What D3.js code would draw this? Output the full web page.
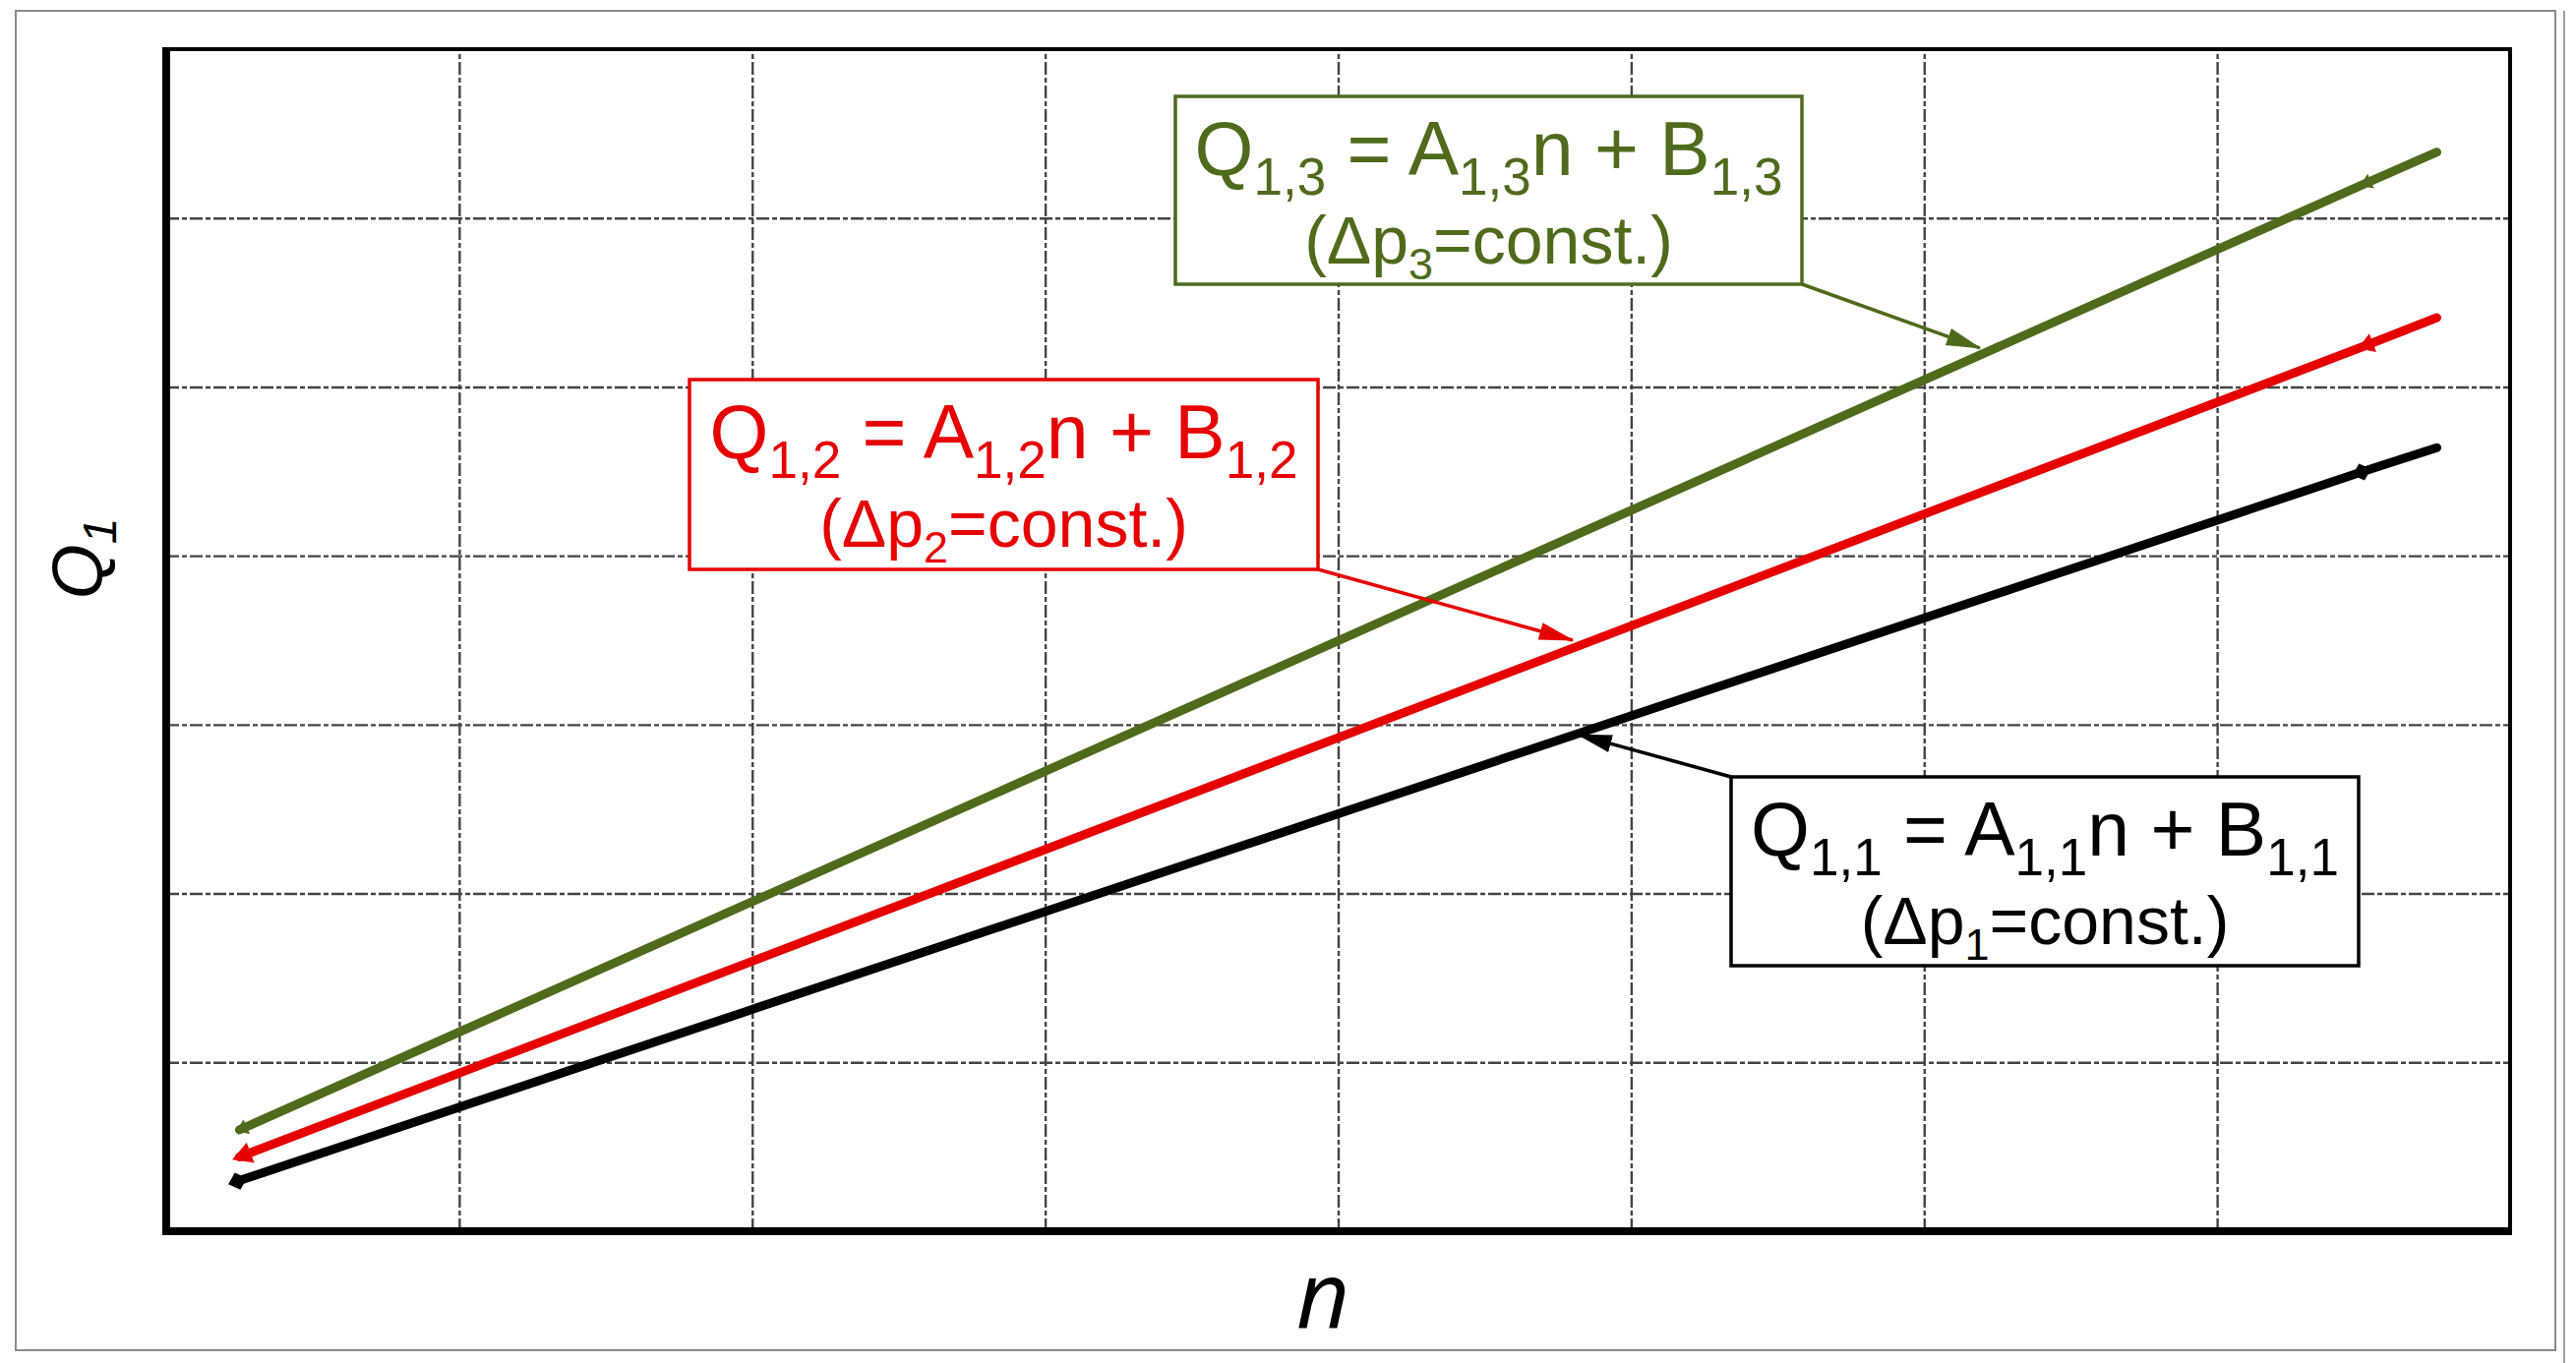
<!DOCTYPE html>
<html>
<head>
<meta charset="utf-8">
<script src="https://cdn.jsdelivr.net/npm/d3@7/dist/d3.min.js"></script>
<style>
  html, body { margin: 0; padding: 0; background: #fff; }
  svg { display: block; }
</style>
</head>
<body>
<script>
// ---------- data (grid units) ----------
const xTicks = [0, 1, 2, 3, 4, 5, 6, 7, 8];
const yTicks = [0, 1, 2, 3, 4, 5, 6, 7];
const nValues = [0.25, 7.5, 7.75];           // n positions of each series
const q11 = [0.30, 4.50, 4.64];               // Q1,1 (black)
const q12 = [0.44, 5.24, 5.41];               // Q1,2 (red)
const q13 = [0.60, 6.20, 6.39];               // Q1,3 (green)
const markerCount = 2;                        // first two points carry markers
const seriesNames = ["Q1,1", "Q1,2", "Q1,3"];
const eqMain = ["1,1", "1,2", "1,3"];
const eqSub = ["1", "2", "3"];
const annotTargetN = [4.82, 4.80, 6.19];
const annotTargetQ = [2.94, 3.50, 5.23];

// ---------- layout ----------
const W = 2619, H = 1386;
const L = 169, T = 50, R = 2552, B = 1252;
const colors = ["#000000", "#e60000", "#4e6b1c"];

const svg = d3.select("body").append("svg").attr("width", W).attr("height", H);

// page frame
svg.append("rect").attr("x", 16).attr("y", 11).attr("width", 2598 - 16).attr("height", 1373 - 11)
  .attr("fill", "none").attr("stroke", "#8a8a8a").attr("stroke-width", 2);
svg.append("line").attr("x1", 2607).attr("x2", 2607).attr("y1", 11).attr("y2", H)
  .attr("stroke", "#a0a0a0").attr("stroke-width", 2);

const x = d3.scaleLinear().domain([xTicks[0], xTicks[xTicks.length - 1]]).range([L, R]);
const y = d3.scaleLinear().domain([yTicks[0], yTicks[yTicks.length - 1]]).range([B, T]);

// grid via axes
const gx = svg.append("g").attr("transform", `translate(0,${B})`)
  .call(d3.axisBottom(x).tickValues(xTicks.slice(1, -1)).tickSize(-(B - T)).tickFormat(""));
const gy = svg.append("g").attr("transform", `translate(${L},0)`)
  .call(d3.axisLeft(y).tickValues(yTicks.slice(1, -1)).tickSize(-(R - L)).tickFormat(""));
[gx, gy].forEach(g => {
  g.select(".domain").remove();
  g.selectAll(".tick line").attr("stroke", "#444").attr("stroke-width", 2.4)
    .attr("stroke-dasharray", "13,3,5,3");
});

// plot frame
svg.append("rect").attr("x", L).attr("y", T).attr("width", R - L).attr("height", B - T)
  .attr("fill", "none").attr("stroke", "#000").attr("stroke-width", 4);
svg.append("line").attr("x1", L).attr("x2", L).attr("y1", T - 2).attr("y2", B + 4)
  .attr("stroke", "#000").attr("stroke-width", 8);
svg.append("line").attr("x1", L - 4).attr("x2", R + 2).attr("y1", B).attr("y2", B)
  .attr("stroke", "#000").attr("stroke-width", 8);

// series lines
const series = [q11, q12, q13].map((vals, i) => ({
  name: seriesNames[i], color: colors[i],
  pts: vals.map((v, j) => ({ n: nValues[j], q: v }))
}));
const line = d3.line().x(d => x(d.n)).y(d => y(d.q));

series.forEach((s, i) => {
  svg.append("path").datum(s.pts).attr("d", line)
    .attr("fill", "none").attr("stroke", s.color).attr("stroke-width", 9)
    .attr("stroke-linecap", "round");
  // markers
  const p0 = s.pts[0], p1 = s.pts[s.pts.length - 1];
  const ang = Math.atan2(y(p0.q) - y(p1.q), x(p0.n) - x(p1.n)); // pointing back to start
  s.pts.slice(0, markerCount).forEach((p, k) => {
    const cx = x(p.n), cy = y(p.q);
    const g = svg.append("g").attr("transform", `translate(${cx},${cy}) rotate(${ang * 180 / Math.PI})`);
    if (i === 0) {
      g.append("path").attr("d", "M-8,0 L2,-9 L12,0 L2,9 Z").attr("fill", s.color);
    } else if (i === 1) {
      const big = k === 0;
      g.append("path").attr("d", big ? "M8,0 L-12,-11 L-12,11 Z" : "M6,0 L-10,-10 L-10,10 Z").attr("fill", s.color);
    } else {
      g.append("path").attr("d", "M4,0 L-8,-8 L-8,8 Z").attr("fill", s.color);
    }
  });
});

// arrow markers for callouts
const defs = svg.append("defs");
colors.forEach((c, i) => {
  defs.append("marker").attr("id", "arr" + i).attr("markerUnits", "userSpaceOnUse")
    .attr("markerWidth", 36).attr("markerHeight", 22).attr("viewBox", "0 0 36 22")
    .attr("refX", 34).attr("refY", 11).attr("orient", "auto")
    .append("path").attr("d", "M0,2 L36,11 L0,20 Z").attr("fill", c);
});

// callout boxes
const boxes = [
  { x0: 1760, y0: 790, x1: 2398, y1: 982, from: [1760, 790] },
  { x0: 701, y0: 386, x1: 1340, y1: 579, from: [1340, 579] },
  { x0: 1195, y0: 98, x1: 1832, y1: 289, from: [1832, 289] }
];
boxes.forEach((b, i) => {
  const c = colors[i];
  svg.append("line").attr("x1", b.from[0]).attr("y1", b.from[1])
    .attr("x2", x(annotTargetN[i])).attr("y2", y(annotTargetQ[i]))
    .attr("stroke", c).attr("stroke-width", 3.5).attr("marker-end", `url(#arr${i})`);
  svg.append("rect").attr("x", b.x0).attr("y", b.y0).attr("width", b.x1 - b.x0).attr("height", b.y1 - b.y0)
    .attr("fill", "#fff").attr("stroke", c).attr("stroke-width", 3.5);
  const cx = (b.x0 + b.x1) / 2;
  const t1 = svg.append("text").attr("x", cx).attr("y", b.y0 + 80)
    .attr("text-anchor", "middle").attr("fill", c)
    .attr("font-family", "Liberation Sans, Arial, sans-serif").attr("font-size", 77);
  const sub = (t, txt) => {
    t.append("tspan").attr("dy", 20).attr("font-size", 53).text(txt);
  };
  t1.append("tspan").text("Q");
  sub(t1, eqMain[i]);
  t1.append("tspan").attr("dy", -20).text(" = A");
  sub(t1, eqMain[i]);
  t1.append("tspan").attr("dy", -20).text("n + B");
  sub(t1, eqMain[i]);

  const t2 = svg.append("text").attr("x", cx).attr("y", b.y0 + 170)
    .attr("text-anchor", "middle").attr("fill", c)
    .attr("font-family", "Liberation Sans, Arial, sans-serif").attr("font-size", 68);
  t2.append("tspan").text("(\u0394p");
  t2.append("tspan").attr("dy", 16).attr("font-size", 45).text(eqSub[i]);
  t2.append("tspan").attr("dy", -16).text("=const.)");
});

// axis titles
svg.append("text").attr("x", 1345).attr("y", 1350).attr("text-anchor", "middle")
  .attr("font-family", "Open Sans, sans-serif").attr("font-style", "italic")
  .attr("font-size", 94).attr("fill", "#000").text("n");

const yl = svg.append("text").attr("transform", "translate(104,568) rotate(-90)")
  .attr("text-anchor", "middle").attr("font-family", "Liberation Sans, Arial, sans-serif")
  .attr("font-style", "italic").attr("font-size", 72).attr("fill", "#000");
yl.append("tspan").text("Q");
yl.append("tspan").attr("dy", 14).attr("font-size", 48).text("1");
</script>
</body>
</html>
